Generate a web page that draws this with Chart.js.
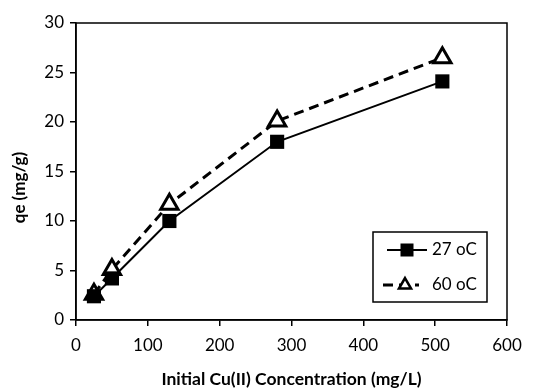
<!DOCTYPE html>
<html>
<head>
<meta charset="utf-8">
<script src="https://cdn.jsdelivr.net/npm/chart.js@4"></script>
<style>
  html, body { margin: 0; padding: 0; background: #fff; }
  #wrap { width: 540px; height: 390px; }
</style>
</head>
<body>
<div id="wrap"><canvas id="qeChart"></canvas></div>
<script>
// data
const concentration = [25, 50, 130, 280, 510];
const qe27 = [2.4, 4.2, 10.0, 18.0, 24.1];
const qe60 = [2.6, 5.1, 11.7, 20.1, 26.5];
const seriesNames = ['27 oC', '60 oC'];
const xTitle = 'Initial Cu(II) Concentration (mg/L)';
const yTitle = 'qe (mg/g)';

const FONT = 'Lato, "Open Sans", sans-serif';

const toPoints = (xs, ys) => xs.map((x, i) => ({ x: x, y: ys[i] }));

// full box around the plot, y title, custom legend (line with marker in middle)
const frameAndLegend = {
  id: 'frameAndLegend',
  afterDraw(chart) {
    const { ctx, chartArea: a } = chart;
    ctx.save();
    ctx.strokeStyle = '#000';
    ctx.lineWidth = 1.5;
    ctx.strokeRect(a.left, a.top, a.right - a.left, a.bottom - a.top);

    // y axis title, sits a bit below the plot centre like the original
    ctx.save();
    ctx.translate(20, (a.top + a.bottom) / 2 + 16);
    ctx.rotate(-Math.PI / 2);
    ctx.fillStyle = '#000';
    ctx.font = 'bold 17px ' + FONT;
    ctx.textAlign = 'center';
    ctx.textBaseline = 'middle';
    ctx.fillText(yTitle, 0, 0);
    ctx.restore();

    // legend box
    const bx = a.right - 134, by = a.bottom - 88, bw = 114, bh = 70;
    ctx.fillStyle = '#fff';
    ctx.fillRect(bx, by, bw, bh);
    ctx.lineWidth = 1.5;
    ctx.strokeRect(bx, by, bw, bh);

    // row 1 - solid line + square
    let y1 = by + 18;
    ctx.lineWidth = 2;
    ctx.setLineDash([]);
    ctx.beginPath();
    ctx.moveTo(bx + 14, y1);
    ctx.lineTo(bx + 54, y1);
    ctx.stroke();
    ctx.fillStyle = '#000';
    ctx.fillRect(bx + 34 - 6.5, y1 - 6.5, 13, 13);

    // row 2 - dashed line + triangle
    let y2 = by + 53;
    ctx.lineWidth = 3;
    ctx.setLineDash([10, 6]);
    ctx.beginPath();
    ctx.moveTo(bx + 10, y2);
    ctx.lineTo(bx + 46, y2);
    ctx.stroke();
    ctx.setLineDash([]);
    const tx = bx + 32, r = 7;
    ctx.beginPath();
    ctx.moveTo(tx, y2 - r);
    ctx.lineTo(tx + r * 0.866, y2 + r * 0.5);
    ctx.lineTo(tx - r * 0.866, y2 + r * 0.5);
    ctx.closePath();
    ctx.fillStyle = '#fff';
    ctx.fill();
    ctx.lineWidth = 2.5;
    ctx.stroke();

    ctx.fillStyle = '#000';
    ctx.font = '17px ' + FONT;
    ctx.textBaseline = 'middle';
    ctx.textAlign = 'left';
    ctx.fillText(seriesNames[0], bx + 59, y1);
    ctx.fillText(seriesNames[1], bx + 59, y2);
    ctx.restore();
  }
};

new Chart(document.getElementById('qeChart'), {
  type: 'scatter',
  data: {
    datasets: [
      {
        label: seriesNames[0],
        data: toPoints(concentration, qe27),
        showLine: true,
        borderColor: '#000',
        borderWidth: 2,
        backgroundColor: '#000',
        pointStyle: 'rect',
        pointRadius: 10,
        pointBorderWidth: 0,
        pointBackgroundColor: '#000'
      },
      {
        label: seriesNames[1],
        data: toPoints(concentration, qe60),
        showLine: true,
        borderColor: '#000',
        borderWidth: 3,
        borderDash: [10, 6],
        pointStyle: 'triangle',
        pointRadius: 10,
        pointBorderWidth: 3,
        pointBackgroundColor: '#fff',
        pointBorderColor: '#000'
      }
    ]
  },
  options: {
    responsive: true,
    maintainAspectRatio: false,
    animation: false,
    layout: { padding: { left: 0, right: 33, top: 23, bottom: 0 } },
    plugins: {
      legend: { display: false },
      tooltip: { enabled: false }
    },
    scales: {
      x: {
        type: 'linear',
        min: 0,
        max: 600,
        ticks: { stepSize: 100, color: '#000', padding: 9, font: { family: FONT, size: 17 } },
        grid: { drawOnChartArea: false, color: '#000', tickLength: 6, lineWidth: 1.5 },
        border: { color: '#000', width: 1.5 },
        title: {
          display: true,
          text: xTitle,
          color: '#000',
          font: { family: FONT, size: 17.5, weight: 'bold' },
          padding: { top: 16, bottom: 0 }
        },
        afterFit(axis) { axis.height = 70; }
      },
      y: {
        min: 0,
        max: 30,
        ticks: { stepSize: 5, color: '#000', padding: 6, font: { family: FONT, size: 17 } },
        grid: { drawOnChartArea: false, color: '#000', tickLength: 6, lineWidth: 1.5 },
        border: { color: '#000', width: 1.5 },
        title: { display: false },
        afterFit(axis) { axis.width = 76; }
      }
    }
  },
  plugins: [frameAndLegend]
});
</script>
</body>
</html>
